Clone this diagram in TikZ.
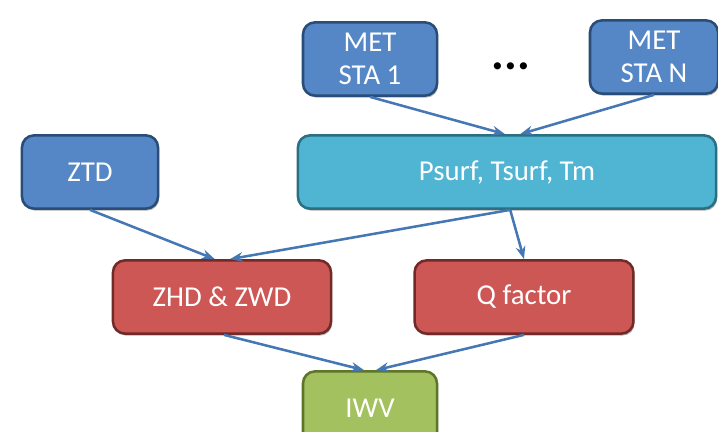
\documentclass[tikz,border=0pt]{standalone}
\usepackage{fontspec}
\setmainfont{Carlito}
\usepackage{xcolor}
\definecolor{staBlue}{HTML}{5587C6}
\definecolor{staEdge}{HTML}{294D78}
\definecolor{metAqua}{HTML}{4FB5D2}
\definecolor{metEdge}{HTML}{2A6F82}
\definecolor{delayRed}{HTML}{CD5755}
\definecolor{delayEdge}{HTML}{722A28}
\definecolor{iwvGreen}{HTML}{A3C15E}
\definecolor{iwvEdge}{HTML}{5E752A}
\definecolor{arrowBlue}{HTML}{4577B4}
\usepackage{tikz}
\usetikzlibrary{positioning,calc,arrows.meta,shadows}
\tikzset{%
  flowBox/.style={%
    rectangle,
    rounded corners=0.3cm,
    line width=1.8pt,
    text=white,
    font=\fontsize{20.5}{22}\selectfont,
    align=center,
    minimum height=1.83cm,
    inner sep=2pt,
    drop shadow={shadow xshift=0.8pt,shadow yshift=-1.4pt,opacity=0.6}
  },
  stationBox/.style={%
    flowBox,
    draw=staEdge,
    fill=staBlue
  },
  paramBox/.style={%
    flowBox,
    draw=metEdge,
    fill=metAqua
  },
  delayBox/.style={%
    flowBox,
    draw=delayEdge,
    fill=delayRed
  },
  resultBox/.style={%
    flowBox,
    draw=iwvEdge,
    fill=iwvGreen
  },
  flowArrow/.style={%
    -{Stealth[length=3.2mm,width=2.4mm]},
    line width=1.8pt,
    color=arrowBlue
  }
}

\begin{document}
\begin{tikzpicture}[x=0.025cm,y=-0.025cm]
  \useasboundingbox (0,0) rectangle (718,432);
  \begin{scope}
    \clip (0,0) rectangle (718,432);

    % top row: station inputs
    \node[stationBox, minimum width=3.35cm] (sta1) at (370,59) {MET\\[1.4pt]STA 1};
    \node[stationBox, minimum width=3.2cm] (staN) at (654,57) {MET\\[1.4pt]STA N};
    \node[font=\fontsize{34}{34}\selectfont\bfseries, inner sep=0pt] (dots) at (511,66) {...};

    % middle row
    \node[stationBox, minimum width=3.4cm] (ztd) at (90,172) {ZTD};
    \node[paramBox, minimum width=10.45cm] (met) at (507,172) {Psurf, Tsurf, Tm};

    % delays and conversion factor
    \node[delayBox, minimum width=5.45cm] (zhd) at (222,297) {ZHD \& ZWD};
    \node[delayBox, minimum width=5.47cm] (qfac) at (524,297) {Q factor};

    % result
    \node[resultBox, minimum width=3.35cm] (iwv) at (370,408) {IWV};

    \draw[flowArrow] (sta1.south) -- ([xshift=-0.05cm]met.north);
    \draw[flowArrow] (staN.south) -- ([xshift=0.33cm]met.north);
    \draw[flowArrow] (ztd.south) -- ([xshift=-0.18cm]zhd.north);
    \draw[flowArrow] ([xshift=0.08cm]met.south) -- ([xshift=0.2cm]zhd.north);
    \draw[flowArrow] ([xshift=0.08cm]met.south) -- (qfac.north);
    \draw[flowArrow] ([xshift=0.05cm]zhd.south) -- ([xshift=-0.15cm]iwv.north);
    \draw[flowArrow] (qfac.south) -- ([xshift=0.15cm]iwv.north);
  \end{scope}
\end{tikzpicture}
\end{document}
